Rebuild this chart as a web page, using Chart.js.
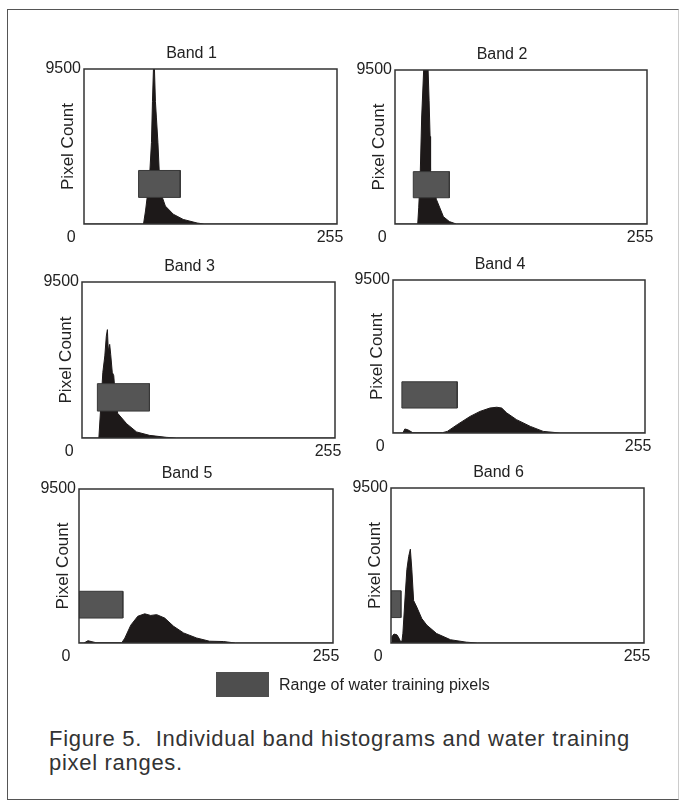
<!DOCTYPE html>
<html lang="en">
<head>
  <meta charset="UTF-8" />
  <title>Figure 5. Individual band histograms</title>
  <script src="https://cdn.jsdelivr.net/npm/chart.js"></script>
  <style>
    body {
      margin: 0;
      background: #fff;
    }
    .page {
      position: relative;
      width: 683px;
      height: 802px;
      overflow: hidden;
      font-family: 'Liberation Sans', Arial, sans-serif;
      color: #222;
    }
    .frame {
      position: absolute;
      left: 7px;
      top: 9px;
      width: 672px;
      height: 791px;
      border: 1.5px solid #555;
      border-right-color: #ccc;
      box-sizing: border-box;
    }
    .panel {
      position: absolute;
    }
    .legend {
      position: absolute;
      left: 216px;
      top: 672px;
      height: 25px;
      display: flex;
      align-items: center;
      font-size: 16px;
    }
    .legend .swatch {
      width: 53px;
      height: 25px;
      background: #4e4e4e;
      margin-right: 10px;
    }
    .caption {
      position: absolute;
      left: 49px;
      top: 727px;
      width: 630px;
      font-size: 22px;
      letter-spacing: 0.7px;
      line-height: 24px;
      color: #333;
    }
  </style>
</head>
<body>
  <div class="page">
    <div class="frame"></div>
    <canvas id="band1" class="panel"></canvas>
    <canvas id="band2" class="panel"></canvas>
    <canvas id="band3" class="panel"></canvas>
    <canvas id="band4" class="panel"></canvas>
    <canvas id="band5" class="panel"></canvas>
    <canvas id="band6" class="panel"></canvas>
    <div class="legend"><div class="swatch"></div>Range of water training pixels</div>
    <div class="caption">Figure 5.&nbsp; Individual band histograms and water training<br>pixel ranges.</div>
  </div>

  <script>
    // histogram outlines: digital number vs pixel count
    const bandNames = ['Band 1', 'Band 2', 'Band 3', 'Band 4', 'Band 5', 'Band 6'];

    const band1Levels = [0, 60, 62, 64, 66, 68, 69, 70, 71, 72, 73, 74.5, 76, 78, 82, 90, 100, 114, 121, 255];
    const band1Counts = [0, 0, 800, 1800, 2800, 5000, 7500, 9500, 9500, 7500, 6500, 5000, 3000, 1800, 1100, 600, 280, 60, 0, 0];

    const band2Levels = [0, 23, 24, 25.5, 27, 29, 33.5, 34.5, 35.5, 36, 38, 42, 49, 55, 62, 255];
    const band2Counts = [0, 0, 1000, 3000, 6600, 9500, 9500, 7600, 5400, 3300, 2400, 1500, 450, 150, 0, 0];

    const band3Levels = [0, 17, 19.5, 21, 23, 24.5, 25.6, 26.5, 27.9, 28.9, 30.5, 32, 34, 36, 45, 55, 68, 85, 95, 255];
    const band3Counts = [0, 0, 2500, 4000, 5000, 6200, 6600, 5300, 5700, 5100, 4000, 3800, 2200, 1500, 870, 370, 160, 40, 0, 0];

    const band4Levels = [0, 10, 12, 15, 20, 50, 55, 65, 78, 88, 98, 105, 110, 115, 125, 139, 152, 169, 255];
    const band4Counts = [0, 0, 250, 200, 20, 20, 100, 520, 1030, 1340, 1550, 1600, 1550, 1250, 830, 410, 100, 0, 0];

    const band5Levels = [0, 5, 9, 13, 17, 43, 46, 52, 59, 66, 72, 78, 86, 95, 105, 118, 131, 145, 157, 255];
    const band5Counts = [0, 0, 140, 80, 20, 20, 300, 1100, 1650, 1800, 1700, 1750, 1540, 1030, 620, 310, 110, 90, 0, 0];

    const band6Levels = [0, 1, 3, 6, 8, 9.5, 11, 12, 14.4, 16, 17.8, 19.5, 21, 22.8, 26, 31, 36, 46, 60, 76, 87, 255];
    const band6Counts = [0, 400, 550, 500, 300, 100, 100, 600, 3000, 4500, 5300, 5750, 4500, 2600, 2200, 1500, 1100, 580, 200, 50, 0, 0];

    const levelsByBand = [band1Levels, band2Levels, band3Levels, band4Levels, band5Levels, band6Levels];
    const countsByBand = [band1Counts, band2Counts, band3Counts, band4Counts, band5Counts, band6Counts];

    // water training pixel range per band, and the count span the marker box covers
    const waterMin = [55, 18.5, 15.5, 9, 0, 0];
    const waterMax = [97, 55, 68, 65, 44, 10];
    const boxCountLow = [1630, 1620, 1640, 1550, 1540, 1560];
    const boxCountHigh = [3280, 3230, 3310, 3180, 3190, 3200];

    const yMax = 9500;
    const xMax = 255;
    const xTickLabels = ['0', '255'];
    const xTickAt = [-13, 248];

    // plot area of each panel on the page: left, top, width, height
    const plotBoxes = [
      [84, 69, 253, 155], [395, 70, 252, 154],
      [82, 282, 253, 156], [393, 280, 252, 153],
      [79, 489, 254, 154], [391, 488, 253, 155]
    ];

    const FONT = "'Liberation Sans', Arial, sans-serif";
    const PAD_LEFT = 6, Y_AXIS_W = 38, PAD_RIGHT = 19, TOP_H = 30, X_AXIS_H = 30;

    const framePlugin = {
      id: 'frame',
      afterDatasetsDraw(chart) {
        const a = chart.chartArea;
        const c = chart.ctx;
        c.save();
        c.strokeStyle = '#333';
        c.lineWidth = 1.5;
        c.strokeRect(a.left, a.top, a.right - a.left, a.bottom - a.top);
        c.restore();
      }
    };

    bandNames.forEach((name, i) => {
      const [L, T, W, H] = plotBoxes[i];
      const canvas = document.getElementById('band' + (i + 1));
      canvas.width = PAD_LEFT + Y_AXIS_W + W + PAD_RIGHT;
      canvas.height = TOP_H + H + X_AXIS_H;
      canvas.style.left = (L - PAD_LEFT - Y_AXIS_W) + 'px';
      canvas.style.top = (T - TOP_H) + 'px';

      const hist = levelsByBand[i].map((x, k) => ({ x: x, y: countsByBand[i][k] }));
      const lo = waterMin[i], hi = waterMax[i];
      const b0 = boxCountLow[i], b1 = boxCountHigh[i];
      const box = [{ x: lo, y: b0 }, { x: lo, y: b1 }, { x: hi, y: b1 }, { x: hi, y: b0 }, { x: lo, y: b0 }];

      new Chart(canvas, {
        type: 'line',
        data: {
          datasets: [
            {
              label: 'Range of water training pixels',
              data: box,
              order: 0,
              fill: 'shape',
              backgroundColor: '#555555',
              borderColor: '#383838',
              borderWidth: 1,
              pointRadius: 0,
              tension: 0
            },
            {
              label: name,
              data: hist,
              order: 1,
              fill: 'origin',
              backgroundColor: '#1d1919',
              borderColor: '#1d1919',
              borderWidth: 1,
              pointRadius: 0,
              tension: 0
            }
          ]
        },
        options: {
          responsive: false,
          animation: false,
          devicePixelRatio: 1,
          layout: { padding: { left: PAD_LEFT, right: PAD_RIGHT, top: 0, bottom: 0 } },
          plugins: {
            legend: { display: false },
            tooltip: { enabled: false },
            title: {
              display: true,
              text: name,
              color: '#222',
              font: { family: FONT, size: 16, weight: 'normal', lineHeight: 1.25 },
              padding: { top: 5, bottom: 5 }
            }
          },
          scales: {
            x: {
              type: 'linear',
              min: 0,
              max: xMax,
              grid: { display: false, drawTicks: false },
              border: { display: false },
              ticks: {
                autoSkip: false,
                maxRotation: 0,
                padding: 4,
                color: '#222',
                font: { family: FONT, size: 16 },
                callback: (v, idx) => xTickLabels[idx]
              },
              afterBuildTicks: s => { s.ticks = xTickAt.map(v => ({ value: v })); },
              afterFit: s => { s.height = X_AXIS_H; }
            },
            y: {
              min: 0,
              max: yMax,
              grid: { display: false, drawTicks: false },
              border: { display: false },
              ticks: {
                padding: 3,
                color: '#222',
                font: { family: FONT, size: 16 },
                callback: v => String(v)
              },
              title: {
                display: true,
                text: 'Pixel Count',
                color: '#222',
                font: { family: FONT, size: 17 },
                padding: { top: 12, bottom: 0 }
              },
              afterBuildTicks: s => { s.ticks = [{ value: yMax }]; },
              afterFit: s => { s.width = Y_AXIS_W; }
            }
          }
        },
        plugins: [framePlugin]
      });
    });
  </script>
</body>
</html>
